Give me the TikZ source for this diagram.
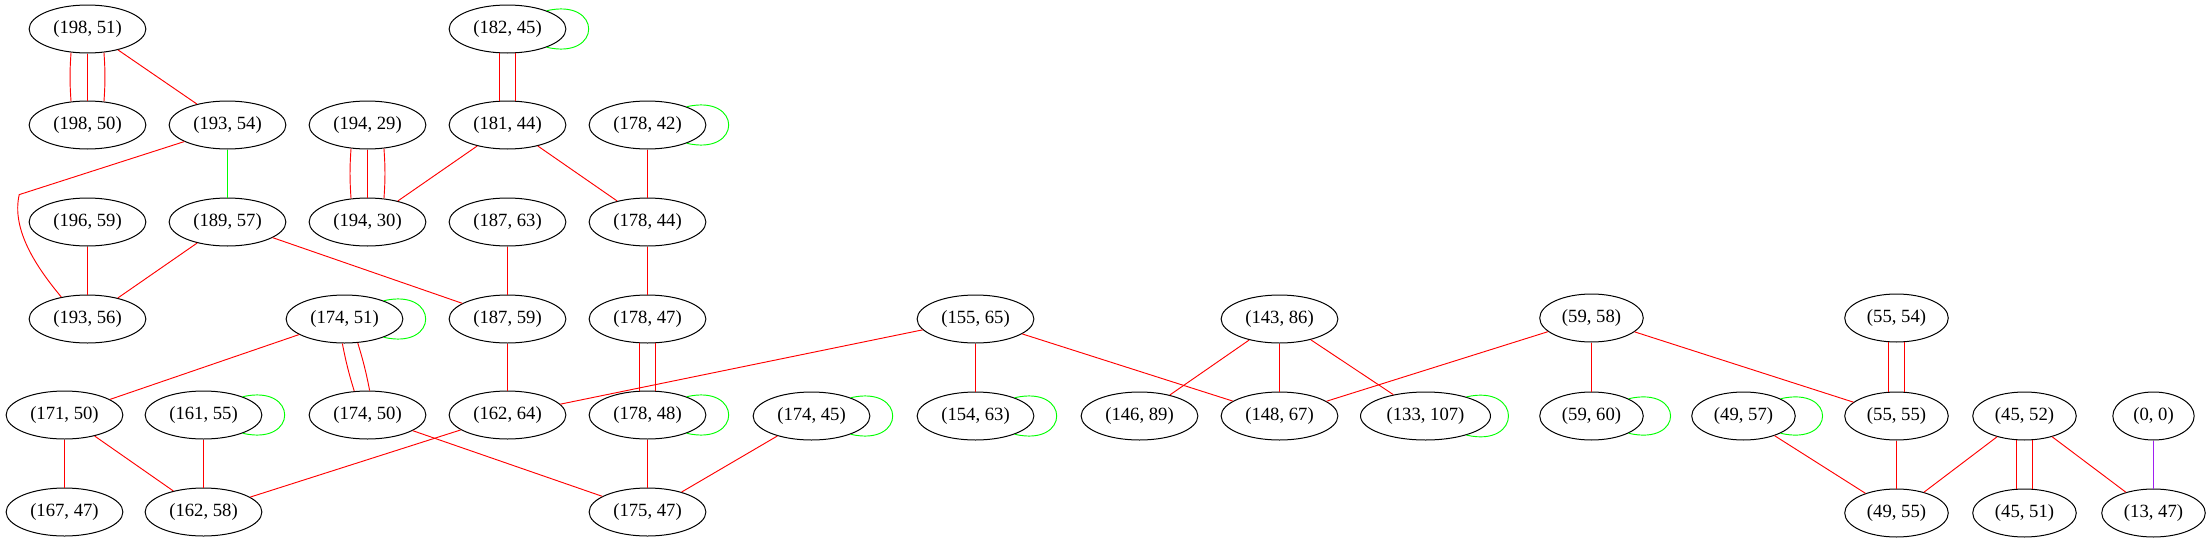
\documentclass[tikz,border=0pt]{standalone}
\usepackage{fontspec}
\setmainfont{Liberation Serif}
\usetikzlibrary{shapes.geometric,calc}
\definecolor{ered}{RGB}{255,0,0}
\definecolor{egreen}{RGB}{0,255,0}
\definecolor{epurple}{RGB}{160,32,240}
\begin{document}
\begin{tikzpicture}[x=0.75pt,y=-0.75pt,
  gn/.style={ellipse,draw,line width=0.75pt,inner xsep=5.3pt,inner ysep=2pt,
    minimum height=36pt,minimum width=61pt,font=\fontsize{14}{16}\selectfont},
  re/.style={draw=ered,line width=0.7pt},
  ge/.style={draw=egreen,line width=0.7pt},
  pe/.style={draw=epurple,line width=0.7pt}]
\useasboundingbox (0,0) rectangle (2207,539);
\begin{scope}[shift={(0.5,0)}]
% row 1
\node[gn] (A1) at (87,29) {(198, 51)};
\node[gn] (A2) at (507,29) {(182, 45)};
% row 2
\node[gn] (B1) at (87,125) {(198, 50)};
\node[gn] (B2) at (227,125) {(193, 54)};
\node[gn] (B3) at (367,125) {(194, 29)};
\node[gn] (B4) at (507,125) {(181, 44)};
\node[gn] (B5) at (647,125) {(178, 42)};
% row 3
\node[gn] (C1) at (87,222) {(196, 59)};
\node[gn] (C2) at (227,222) {(189, 57)};
\node[gn] (C3) at (367,222) {(194, 30)};
\node[gn] (C4) at (507,222) {(187, 63)};
\node[gn] (C5) at (647,222) {(178, 44)};
% row 4
\node[gn] (D1) at (87,319) {(193, 56)};
\node[gn] (D2) at (344,319) {(174, 51)};
\node[gn] (D3) at (507,319) {(187, 59)};
\node[gn] (D4) at (647,319) {(178, 47)};
\node[gn] (D5) at (975,319) {(155, 65)};
\node[gn] (D6) at (1279,319) {(143, 86)};
\node[gn] (D7) at (1591,318) {(59, 58)};
\node[gn] (D8) at (1896,318) {(55, 54)};
% row 5
\node[gn] (E1) at (64,415) {(171, 50)};
\node[gn] (E2) at (203,415) {(161, 55)};
\node[gn] (E3) at (367,415) {(174, 50)};
\node[gn] (E4) at (507,415) {(162, 64)};
\node[gn] (E5) at (647,415) {(178, 48)};
\node[gn] (E6) at (811,416) {(174, 45)};
\node[gn] (E7) at (975,416) {(154, 63)};
\node[gn] (E8) at (1139,416) {(146, 89)};
\node[gn] (E9) at (1279,416) {(148, 67)};
\node[gn] (E10) at (1425,416) {(133, 107)};
\node[gn] (E11) at (1591,416) {(59, 60)};
\node[gn] (E12) at (1743,416) {(49, 57)};
\node[gn] (E13) at (1896,416) {(55, 55)};
\node[gn] (E14) at (2024,416) {(45, 52)};
\node[gn] (E15) at (2153,416) {(0, 0)};
% row 6
\node[gn] (F1) at (64,512) {(167, 47)};
\node[gn] (F2) at (203,512) {(162, 58)};
\node[gn] (F3) at (647,512) {(175, 47)};
\node[gn] (F4) at (1896,513) {(49, 55)};
\node[gn] (F5) at (2024,513) {(45, 51)};
\node[gn] (F6) at (2153,513) {(13, 47)};
\end{scope}

% self loops
\foreach \n in {A2,B5,D2,E2,E5,E6,E7,E10,E11,E12}
  \draw[ge] (\n.25) .. controls +(56,-13) and +(56,13) .. (\n.-25);

% multi edges
\draw[re] (A1.-125) to[bend right=4] (B1.125);
\draw[re] (A1.-90) -- (B1.90);
\draw[re] (A1.-55) to[bend left=4] (B1.55);
\draw[re] (B3.-125) to[bend right=4] (C3.125);
\draw[re] (B3.-90) -- (C3.90);
\draw[re] (B3.-55) to[bend left=4] (C3.55);
\draw[re] (A2.-109) -- (B4.109);
\draw[re] (A2.-71) -- (B4.71);
\draw[re] (D4.-109) -- (E5.109);
\draw[re] (D4.-71) -- (E5.71);
\draw[re] (D8.-109) -- (E13.109);
\draw[re] (D8.-71) -- (E13.71);
\draw[re] (E14.-109) -- (F5.109);
\draw[re] (E14.-71) -- (F5.71);
\draw[re] (D2.-95) to[bend right=3] (E3.119);
\draw[re] (D2.-61) to[bend left=3] (E3.85);

% single edges
\draw[re] (A1) -- (B2);
\draw[re] (B2.201) -- ++(-165,53) .. controls +(-8,35) and +(-25,-30) .. (D1.140);
\draw[ge] (B2) -- (C2);
\draw[re] (B4) -- (C3);
\draw[re] (B4) -- (C5);
\draw[re] (B5) -- (C5);
\draw[re] (C1) -- (D1);
\draw[re] (C2) -- (D1);
\draw[re] (C2) -- (D3);
\draw[re] (C4) -- (D3);
\draw[re] (C5) -- (D4);
\draw[re] (D2) -- (E1);
\draw[re] (D3) -- (E4);
\draw[re] (D5) -- (E4);
\draw[re] (D5) -- (E7);
\draw[re] (D5) -- (E9);
\draw[re] (D6) -- (E8);
\draw[re] (D6) -- (E9);
\draw[re] (D6) -- (E10);
\draw[re] (D7) -- (E9);
\draw[re] (D7) -- (E11);
\draw[re] (D7) -- (E13);
\draw[re] (E1) -- (F1);
\draw[re] (E1) -- (F2);
\draw[re] (E2) -- (F2);
\draw[re] (E4) -- (F2);
\draw[re] (E3) -- (F3);
\draw[re] (E5) -- (F3);
\draw[re] (E6) -- (F3);
\draw[re] (E12) -- (F4);
\draw[re] (E13) -- (F4);
\draw[re] (E14) -- (F4);
\draw[re] (E14) -- (F6);
\draw[pe] (E15) -- (F6);
\end{tikzpicture}
\end{document}
